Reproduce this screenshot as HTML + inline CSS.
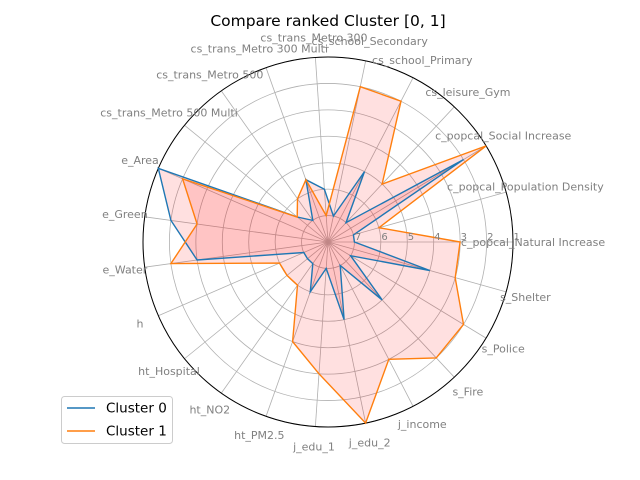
<!DOCTYPE html>
<html><head><meta charset="utf-8"><style>
html,body{margin:0;padding:0;background:#fff;}
svg{display:block;font-family:"DejaVu Sans","Liberation Sans",sans-serif;}
</style></head><body>
<svg id="chart" width="640" height="480" viewBox="0 0 640 480" xmlns="http://www.w3.org/2000/svg">
<rect width="640" height="480" fill="#fff"/>
<text x="328" y="26" text-anchor="middle" font-size="15.5" fill="#000">Compare ranked Cluster [0, 1]</text>
<g id="grid"></g>
<g id="series"></g>
<g id="labels"></g>
<g id="rticks"></g>
<g>
<rect x="61.5" y="396.5" width="111" height="47" rx="3" fill="#fff" fill-opacity="0.8" stroke="#ccc"/>
<g>
<line x1="67" y1="408" x2="95" y2="408" stroke="#1f77b4" stroke-width="1.5"/>
<text x="106" y="412.5" font-size="13.5" fill="#000">Cluster 0</text>
</g>
<g>
<line x1="67" y1="431" x2="95" y2="431" stroke="#ff7f0e" stroke-width="1.5"/>
<text x="106" y="435.5" font-size="13.5" fill="#000">Cluster 1</text>
</g>
</g>
</svg>
<script>
const categories = ["c_popcal_Natural Increase","c_popcal_Population Density","c_popcal_Social Increase","cs_leisure_Gym","cs_school_Primary","cs_school_Secondary","cs_trans_Metro 300","cs_trans_Metro 300 Multi","cs_trans_Metro 500","cs_trans_Metro 500 Multi","e_Area","e_Green","e_Water","h","ht_Hospital","ht_NO2","ht_PM2.5","j_edu_1","j_edu_2","j_income","s_Fire","s_Police","s_Shelter"];
const cluster0 = [7,7,2,7,5,7,6,5.5,7,6.5,1,2,3,7,7,7,6,7,5,7,5,7,4];
const cluster1 = [3,6,1,5,2,2,7,5.5,6,6.5,2,3,2,6,6,6,4,3,1,3,2,2,3];
const rTicks = [1,2,3,4,5,6,7];

const NS = "http://www.w3.org/2000/svg";
const cx = 328, cy = 242, R = 185, vMin = 1, vCenter = 8;
function rScale(v){ return (vCenter - v) / (vCenter - vMin) * R; }
function angle(i){ return i * 2 * Math.PI / categories.length; }
function pt(i, r){ const a = angle(i); return [cx + r*Math.cos(a), cy - r*Math.sin(a)]; }
function mk(tag, attrs, parent){ const e = document.createElementNS(NS, tag); for (const k in attrs) e.setAttribute(k, attrs[k]); parent.appendChild(e); return e; }

const grid = document.getElementById('grid');
rTicks.forEach(t => {
  const c = mk('circle', {cx:cx, cy:cy, r:rScale(t), fill:'none', stroke:'#b0b0b0', 'stroke-width':0.8}, grid);
  
  
});
categories.forEach((c, i) => {
  const p = pt(i, R);
  const l = mk('line', {x1:cx, y1:cy, x2:p[0], y2:p[1], stroke:'#b0b0b0', 'stroke-width':0.8}, grid);
  
  
});
const outer = mk('circle', {cx:cx, cy:cy, r:R, fill:'none', stroke:'#000', 'stroke-width':1}, grid);



const series = document.getElementById('series');
[[cluster0, '#1f77b4', 'cluster-0'], [cluster1, '#ff7f0e', 'cluster-1']].forEach(([vals, col, nm]) => {
  const pts = vals.map((v, i) => pt(i, rScale(v)).map(n => n.toFixed(1)).join(',')).join(' ');
  const f = mk('polygon', {points:pts, fill:'#ff0000', 'fill-opacity':0.12, stroke:'none'}, series);
  
  
});
[[cluster0, '#1f77b4', 'cluster-0'], [cluster1, '#ff7f0e', 'cluster-1']].forEach(([vals, col, nm]) => {
  const pts = vals.map((v, i) => pt(i, rScale(v)).map(n => n.toFixed(1)).join(',')).join(' ');
  const l = mk('polygon', {points:pts, fill:'none', stroke:col, 'stroke-width':1.4, 'stroke-linejoin':'miter'}, series);
  
  
});

const labels = document.getElementById('labels');
categories.forEach((c, i) => {
  const p = pt(i, 205);
  const t = mk('text', {x:p[0].toFixed(1), y:(p[1]+3.8).toFixed(1), 'text-anchor':'middle', 'font-size':11, fill:'#808080'}, labels);
  t.textContent = c;
  
  
});

const rt = document.getElementById('rticks');
rTicks.forEach(t => {
  const e = mk('text', {x:(cx + rScale(t) + 0.5).toFixed(1), y:240, 'text-anchor':'start', 'font-size':10, fill:'#808080'}, rt);
  e.textContent = String(t);
  
  
});
</script>
</body></html>
